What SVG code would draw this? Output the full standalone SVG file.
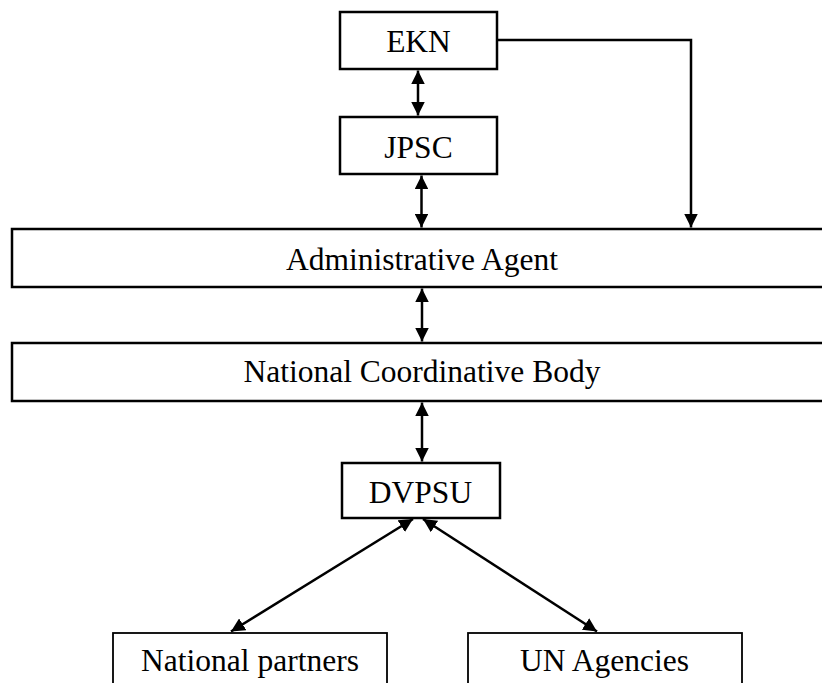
<svg xmlns="http://www.w3.org/2000/svg" width="822" height="683" viewBox="0 0 822 683">
<style>
.box{fill:#fff;stroke:#000;stroke-width:2.5}
.thin{fill:#fff;stroke:#000;stroke-width:1.8}
.lbl{font-family:"Liberation Serif","Times New Roman",serif;font-size:31.5px;text-anchor:middle;fill:#000}
.con{fill:none;stroke:#000;stroke-width:2.5}
</style>
<defs>
<marker id="ah" viewBox="0 0 10 10" refX="10" refY="5" markerWidth="5.5" markerHeight="5.5" markerUnits="strokeWidth" orient="auto-start-reverse">
<path d="M0,0 L10,5 L0,10 z" fill="#000"/>
</marker>
</defs>
<rect width="822" height="683" fill="#fff"/>
<g id="connectors">
<line class="con" x1="418" y1="70.5" x2="418" y2="115.5" marker-start="url(#ah)" marker-end="url(#ah)"/>
<line class="con" x1="421.5" y1="175.5" x2="421.5" y2="227.5" marker-start="url(#ah)" marker-end="url(#ah)"/>
<line class="con" x1="422" y1="288.5" x2="422" y2="341.5" marker-start="url(#ah)" marker-end="url(#ah)"/>
<line class="con" x1="422" y1="402.5" x2="422" y2="461.5" marker-start="url(#ah)" marker-end="url(#ah)"/>
<polyline class="con" points="498,40 691,40 691,227.5" marker-end="url(#ah)"/>
<line class="con" x1="413" y1="519" x2="231" y2="631.5" marker-start="url(#ah)" marker-end="url(#ah)"/>
<line class="con" x1="423" y1="519" x2="597" y2="631.5" marker-start="url(#ah)" marker-end="url(#ah)"/>
</g>
<g id="ekn"><rect class="box" x="340" y="12" width="157" height="57"/><text class="lbl" x="418.5" y="51.5">EKN</text></g>
<g id="jpsc"><rect class="box" x="340" y="117" width="157" height="57"/><text class="lbl" x="418.5" y="157.5">JPSC</text></g>
<g id="admin"><rect class="box" x="12" y="229" width="820" height="58"/><text class="lbl" x="422" y="269.5">Administrative Agent</text></g>
<g id="ncb"><rect class="box" x="12" y="343" width="820" height="58"/><text class="lbl" x="422" y="381.5">National Coordinative Body</text></g>
<g id="dvpsu"><rect class="box" x="342" y="463" width="158" height="55"/><text class="lbl" x="420.5" y="502.5">DVPSU</text></g>
<g id="national-partners"><rect class="thin" x="113" y="633" width="274" height="80"/><text class="lbl" x="250" y="671">National partners</text></g>
<g id="un-agencies"><rect class="thin" x="468" y="633" width="274" height="80"/><text class="lbl" x="604.5" y="671">UN Agencies</text></g>
</svg>
